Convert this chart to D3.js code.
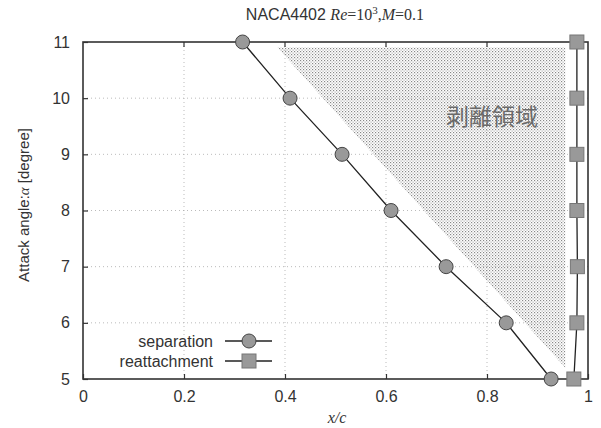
<!DOCTYPE html>
<html>
<head>
<meta charset="utf-8">
<script src="https://cdn.jsdelivr.net/npm/d3@7"></script>
<style>
  body { margin: 0; background: #fff; }
  svg text { font-family: "Liberation Sans", Arial, sans-serif; fill: #333; }
  .serif { font-family: "Liberation Serif", "Times New Roman", serif; }
</style>
</head>
<body>
<svg id="chart"></svg>
<script>
"use strict";

// data
var angles = [11, 10, 9, 8, 7, 6, 5];
var separationX = [0.316, 0.41, 0.513, 0.61, 0.719, 0.838, 0.927];
var reattachX = [0.978, 0.978, 0.978, 0.978, 0.979, 0.978, 0.972];
var regionX = [0.385, 0.955, 0.955];
var regionY = [10.9, 10.9, 5.2];
var xTicks = [0, 0.2, 0.4, 0.6, 0.8, 1];
var yTicks = [5, 6, 7, 8, 9, 10, 11];
var regionLabel = "剥離領域";
var legendLabels = ["separation", "reattachment"];

var width = 601, height = 428;
var plot = {left: 83, right: 588, top: 42, bottom: 379};

var svg = d3.select("#chart").attr("width", width).attr("height", height);

var x = d3.scaleLinear().domain([0, 1]).range([plot.left, plot.right]);
var y = d3.scaleLinear().domain([5, 11]).range([plot.bottom, plot.top]);

// dot pattern for the separated region
var defs = svg.append("defs");
var pat = defs.append("pattern")
  .attr("id", "dots")
  .attr("width", 3).attr("height", 3)
  .attr("patternUnits", "userSpaceOnUse");
pat.append("rect").attr("width", 1.2).attr("height", 1.2).attr("fill", "#888");
pat.append("rect").attr("x", 1.5).attr("y", 1.5).attr("width", 1.2).attr("height", 1.2).attr("fill", "#aaa");

// grid (dotted)
var grid = svg.append("g");
grid.selectAll(".vg").data(xTicks.slice(1, -1)).enter().append("line")
  .attr("x1", function(d) {return x(d)}).attr("x2", function(d) {return x(d)})
  .attr("y1", plot.top).attr("y2", plot.bottom)
  .attr("stroke", "#aaa").attr("stroke-width", 0.8)
  .attr("stroke-dasharray", "1,3");
grid.selectAll(".hg").data(yTicks.slice(1, -1)).enter().append("line")
  .attr("y1", function(d) {return y(d)}).attr("y2", function(d) {return y(d)})
  .attr("x1", plot.left).attr("x2", plot.right)
  .attr("stroke", "#aaa").attr("stroke-width", 0.8)
  .attr("stroke-dasharray", "1,3");

// shaded region
var region = regionX.map(function(v, i) {return [x(v), y(regionY[i])]});
svg.append("path")
  .attr("d", d3.line()(region) + "Z")
  .attr("fill", "url(#dots)");

svg.append("text")
  .attr("x", 492).attr("y", 125)
  .attr("text-anchor", "middle")
  .style("font-family", "'Noto Sans CJK JP', sans-serif")
  .style("font-size", "23px")
  .style("fill", "#6a6a6a")
  .text(regionLabel);

// axes
var xAxis = d3.axisBottom(x).tickValues(xTicks).tickSize(-5).tickPadding(12)
  .tickFormat(d3.format("~g"));
var yAxis = d3.axisLeft(y).tickValues(yTicks).tickSize(-5).tickPadding(13)
  .tickFormat(d3.format("d"));

var gx = svg.append("g").attr("transform", "translate(0," + plot.bottom + ")").call(xAxis);
var gy = svg.append("g").attr("transform", "translate(" + plot.left + ",0)").call(yAxis);
[gx, gy].forEach(function(g) {
  g.select(".domain").remove();
  g.selectAll("line").attr("stroke", "#333").attr("stroke-width", 1.2);
  g.selectAll("text").style("font-size", "16px").style("fill", "#333");
});
// ticks on top edge too
svg.append("g").selectAll("line").data(xTicks.slice(1, -1)).enter().append("line")
  .attr("x1", function(d) {return x(d)}).attr("x2", function(d) {return x(d)})
  .attr("y1", plot.top).attr("y2", plot.top + 5)
  .attr("stroke", "#333").attr("stroke-width", 1.2);

// frame
svg.append("rect")
  .attr("x", plot.left).attr("y", plot.top)
  .attr("width", plot.right - plot.left).attr("height", plot.bottom - plot.top)
  .attr("fill", "none").attr("stroke", "#333").attr("stroke-width", 1.6);

// series
var line = d3.line()
  .x(function(d) {return x(d[0])})
  .y(function(d) {return y(d[1])});

var sepData = angles.map(function(a, i) {return [separationX[i], a]});
var reaData = angles.map(function(a, i) {return [reattachX[i], a]});

svg.append("path").attr("d", line(sepData))
  .attr("fill", "none").attr("stroke", "#222").attr("stroke-width", 1.3);
svg.append("path").attr("d", line(reaData))
  .attr("fill", "none").attr("stroke", "#222").attr("stroke-width", 1.3);

svg.append("g").selectAll("circle").data(sepData).enter().append("circle")
  .attr("cx", function(d) {return x(d[0])})
  .attr("cy", function(d) {return y(d[1])})
  .attr("r", 7)
  .attr("fill", "#999").attr("stroke", "#444").attr("stroke-width", 1);

svg.append("g").selectAll("rect").data(reaData).enter().append("rect")
  .attr("x", function(d) {return x(d[0]) - 7})
  .attr("y", function(d) {return y(d[1]) - 7})
  .attr("width", 14).attr("height", 14)
  .attr("fill", "#999").attr("stroke", "#777").attr("stroke-width", 1);

// legend
var legend = svg.append("g");
legendLabels.forEach(function(lbl, i) {
  var ly = 341 + i * 20;
  legend.append("text")
    .attr("x", 213).attr("y", ly + 6)
    .attr("text-anchor", "end")
    .style("font-size", "16px")
    .text(lbl);
  legend.append("line")
    .attr("x1", 225).attr("x2", 272).attr("y1", ly).attr("y2", ly)
    .attr("stroke", "#222").attr("stroke-width", 1.3);
  if (i === 0) {
    legend.append("circle").attr("cx", 249).attr("cy", ly).attr("r", 7)
      .attr("fill", "#999").attr("stroke", "#444");
  } else {
    legend.append("rect").attr("x", 242).attr("y", ly - 7).attr("width", 14).attr("height", 14)
      .attr("fill", "#999").attr("stroke", "#777");
  }
});

// title
var title = svg.append("text").attr("x", 335).attr("y", 20).attr("text-anchor", "middle")
  .style("font-size", "16px");
title.append("tspan").text("NACA4402 ");
title.append("tspan").attr("class", "serif").style("font-style", "italic").text("Re");
title.append("tspan").attr("class", "serif").text("=10");
title.append("tspan").attr("class", "serif").attr("dy", -6).style("font-size", "11px").text("3");
title.append("tspan").attr("class", "serif").attr("dy", 6).text(",");
title.append("tspan").attr("class", "serif").style("font-style", "italic").text("M");
title.append("tspan").attr("class", "serif").text("=0.1");

// axis labels
svg.append("text")
  .attr("x", 337).attr("y", 423).attr("text-anchor", "middle")
  .attr("class", "serif").style("font-style", "italic").style("font-size", "16px")
  .text("x/c");

var yl = svg.append("text")
  .attr("transform", "translate(29,205) rotate(-90)")
  .attr("text-anchor", "middle")
  .style("font-size", "15px");
yl.append("tspan").text("Attack angle:");
yl.append("tspan").attr("class", "serif").style("font-style", "italic").text("α");
yl.append("tspan").text(" [degree]");
</script>
</body>
</html>
